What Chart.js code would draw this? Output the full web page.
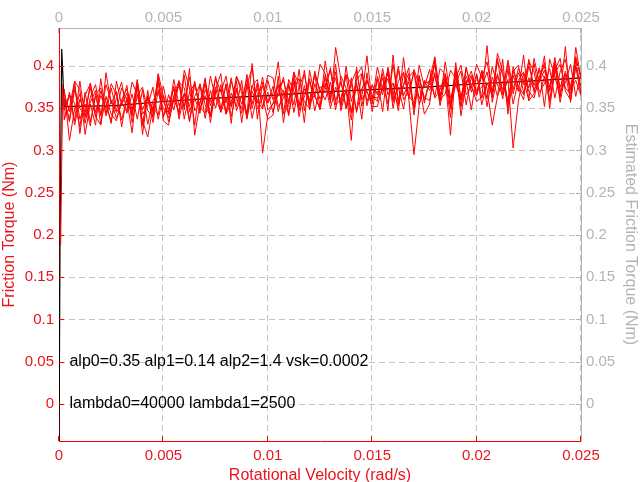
<!DOCTYPE html>
<html>
<head>
<meta charset="utf-8">
<script src="https://cdn.jsdelivr.net/npm/chart.js@4.4.1/dist/chart.umd.min.js"></script>
<style>
html,body{margin:0;padding:0;background:#fff;}
#wrap{width:640px;height:482px;}
</style>
</head>
<body>
<div id="wrap"><canvas id="c" width="640" height="482"></canvas></div>
<script>
// Velocity grid (rad/s), 100 samples per run
const velocity = [
  0.00025,0.0005,0.00075,0.001,0.00125,0.0015,0.00175,0.002,0.00225,0.0025,
  0.00275,0.003,0.00325,0.0035,0.00375,0.004,0.00425,0.0045,0.00475,0.005,
  0.00525,0.0055,0.00575,0.006,0.00625,0.0065,0.00675,0.007,0.00725,0.0075,
  0.00775,0.008,0.00825,0.0085,0.00875,0.009,0.00925,0.0095,0.00975,0.01,
  0.01025,0.0105,0.01075,0.011,0.01125,0.0115,0.01175,0.012,0.01225,0.0125,
  0.01275,0.013,0.01325,0.0135,0.01375,0.014,0.01425,0.0145,0.01475,0.015,
  0.01525,0.0155,0.01575,0.016,0.01625,0.0165,0.01675,0.017,0.01725,0.0175,
  0.01775,0.018,0.01825,0.0185,0.01875,0.019,0.01925,0.0195,0.01975,0.02,
  0.02025,0.0205,0.02075,0.021,0.02125,0.0215,0.02175,0.022,0.02225,0.0225,
  0.02275,0.023,0.02325,0.0235,0.02375,0.024,0.02425,0.0245,0.02475,0.025];
// start-up transient of measured friction
const velStart = [0.00008,0.00018];
const frStart  = [0.188,0.378];
// measured friction torque runs (Nm)
const runA = [
  0.336,0.369,0.330,0.361,0.345,0.375,0.340,0.365,0.351,0.379,
  0.366,0.336,0.361,0.345,0.376,0.330,0.363,0.349,0.380,0.341,
  0.355,0.373,0.342,0.389,0.346,0.364,0.378,0.338,0.371,0.350,
  0.378,0.356,0.386,0.347,0.365,0.339,0.377,0.384,0.351,0.369,
  0.345,0.370,0.383,0.358,0.393,0.353,0.363,0.385,0.347,0.375,
  0.376,0.395,0.358,0.381,0.351,0.386,0.345,0.373,0.383,0.364,
  0.362,0.372,0.394,0.350,0.382,0.392,0.364,0.357,0.401,0.375,
  0.396,0.362,0.372,0.390,0.355,0.386,0.401,0.366,0.376,0.358,
  0.363,0.424,0.357,0.388,0.372,0.402,0.367,0.392,0.378,0.406,
  0.393,0.363,0.388,0.372,0.403,0.357,0.390,0.376,0.407,0.368];
const runB = [
  0.348,0.366,0.335,0.382,0.339,0.357,0.371,0.331,0.364,0.343,
  0.335,0.360,0.373,0.348,0.383,0.343,0.353,0.375,0.337,0.365,
  0.349,0.359,0.381,0.337,0.369,0.379,0.351,0.344,0.388,0.362,
  0.346,0.379,0.340,0.371,0.355,0.385,0.350,0.375,0.361,0.389,
  0.386,0.352,0.362,0.380,0.345,0.376,0.391,0.356,0.366,0.348,
  0.380,0.350,0.375,0.359,0.390,0.344,0.377,0.363,0.412,0.355,
  0.388,0.366,0.396,0.357,0.375,0.349,0.387,0.394,0.361,0.379,
  0.382,0.401,0.364,0.387,0.357,0.392,0.351,0.379,0.389,0.370,
  0.375,0.393,0.362,0.409,0.366,0.384,0.303,0.358,0.391,0.370,
  0.362,0.387,0.400,0.375,0.410,0.370,0.380,0.402,0.364,0.392];
const runC = [
  0.347,0.366,0.356,0.328,0.369,0.334,0.364,0.341,0.378,0.359,
  0.338,0.356,0.346,0.381,0.366,0.335,0.316,0.352,0.342,0.376,
  0.345,0.384,0.353,0.367,0.334,0.380,0.349,0.365,0.340,0.370,
  0.372,0.344,0.382,0.360,0.350,0.390,0.355,0.380,0.297,0.342,
  0.356,0.377,0.344,0.384,0.370,0.352,0.395,0.348,0.379,0.361,
  0.372,0.398,0.354,0.361,0.389,0.379,0.347,0.391,0.369,0.359,
  0.399,0.371,0.385,0.360,0.395,0.365,0.381,0.350,0.389,0.356,
  0.382,0.364,0.397,0.390,0.352,0.378,0.360,0.399,0.369,0.391,
  0.362,0.380,0.370,0.405,0.390,0.359,0.394,0.376,0.366,0.400,
  0.377,0.396,0.386,0.358,0.399,0.364,0.394,0.371,0.408,0.389];
const runD = [
  0.368,0.346,0.376,0.337,0.355,0.329,0.367,0.374,0.341,0.359,
  0.345,0.355,0.377,0.333,0.365,0.375,0.347,0.340,0.384,0.358,
  0.343,0.376,0.337,0.368,0.352,0.382,0.347,0.372,0.358,0.386,
  0.369,0.388,0.351,0.374,0.344,0.379,0.338,0.366,0.376,0.357,
  0.376,0.346,0.371,0.355,0.386,0.340,0.373,0.359,0.390,0.351,
  0.390,0.356,0.422,0.384,0.349,0.380,0.395,0.360,0.370,0.352,
  0.352,0.377,0.390,0.365,0.400,0.360,0.370,0.392,0.354,0.382,
  0.371,0.389,0.358,0.405,0.362,0.380,0.394,0.354,0.387,0.366,
  0.395,0.373,0.330,0.364,0.382,0.356,0.394,0.401,0.368,0.386,
  0.372,0.382,0.404,0.360,0.392,0.402,0.374,0.367,0.411,0.385];
const runE = [
  0.362,0.334,0.372,0.350,0.340,0.380,0.345,0.370,0.357,0.332,
  0.382,0.354,0.368,0.343,0.378,0.348,0.364,0.333,0.372,0.339,
  0.366,0.348,0.381,0.374,0.336,0.362,0.344,0.383,0.353,0.375,
  0.345,0.363,0.353,0.388,0.373,0.342,0.377,0.359,0.349,0.383,
  0.360,0.379,0.369,0.341,0.382,0.347,0.377,0.354,0.391,0.372,
  0.360,0.381,0.348,0.388,0.374,0.312,0.399,0.352,0.383,0.365,
  0.358,0.397,0.366,0.380,0.347,0.393,0.362,0.295,0.353,0.383,
  0.378,0.404,0.360,0.367,0.395,0.385,0.353,0.397,0.375,0.365,
  0.389,0.361,0.399,0.377,0.367,0.407,0.372,0.397,0.384,0.359,
  0.409,0.381,0.395,0.370,0.405,0.375,0.391,0.360,0.399,0.366];
const runF = [
  0.373,0.312,0.349,0.367,0.332,0.363,0.378,0.343,0.353,0.335,
  0.362,0.381,0.344,0.367,0.337,0.372,0.331,0.359,0.369,0.350,
  0.339,0.364,0.377,0.352,0.387,0.347,0.357,0.379,0.341,0.369,
  0.373,0.343,0.368,0.352,0.383,0.337,0.370,0.356,0.387,0.348,
  0.355,0.365,0.387,0.343,0.375,0.385,0.357,0.350,0.394,0.368,
  0.385,0.363,0.393,0.354,0.372,0.346,0.384,0.391,0.358,0.376,
  0.368,0.386,0.355,0.402,0.359,0.377,0.391,0.351,0.384,0.363,
  0.359,0.392,0.353,0.384,0.318,0.398,0.363,0.388,0.374,0.402,
  0.386,0.405,0.368,0.391,0.361,0.396,0.355,0.383,0.393,0.374,
  0.403,0.369,0.379,0.397,0.362,0.393,0.408,0.373,0.383,0.365];
const runG = [
  0.337,0.351,0.382,0.320,0.365,0.379,0.340,0.330,0.392,0.355,
  0.370,0.328,0.363,0.340,0.384,0.319,0.365,0.346,0.389,0.335,
  0.330,0.365,0.383,0.348,0.397,0.318,0.355,0.386,0.333,0.372,
  0.391,0.343,0.357,0.382,0.333,0.377,0.398,0.349,0.363,0.337,
  0.342,0.388,0.333,0.377,0.354,0.396,0.347,0.382,0.363,0.402,
  0.391,0.360,0.402,0.347,0.372,0.336,0.389,0.399,0.353,0.378,
  0.366,0.391,0.347,0.413,0.353,0.378,0.398,0.342,0.388,0.359,
  0.384,0.411,0.359,0.391,0.349,0.398,0.341,0.380,0.394,0.367,
  0.394,0.352,0.387,0.364,0.408,0.343,0.389,0.370,0.413,0.359,
  0.367,0.381,0.412,0.350,0.395,0.409,0.370,0.360,0.422,0.385];
const runH = [
  0.361,0.336,0.382,0.372,0.319,0.355,0.330,0.385,0.343,0.374,
  0.347,0.374,0.360,0.321,0.378,0.329,0.371,0.339,0.391,0.364,
  0.334,0.360,0.346,0.395,0.374,0.330,0.379,0.354,0.340,0.388,
  0.349,0.378,0.332,0.388,0.368,0.343,0.403,0.337,0.381,0.356,
  0.368,0.405,0.343,0.353,0.392,0.378,0.333,0.395,0.364,0.350,
  0.406,0.367,0.386,0.351,0.400,0.358,0.381,0.337,0.392,0.346,
  0.385,0.346,0.399,0.368,0.354,0.410,0.361,0.396,0.378,0.343,
  0.355,0.409,0.366,0.385,0.339,0.404,0.360,0.383,0.348,0.390,
  0.354,0.380,0.366,0.415,0.394,0.350,0.399,0.374,0.360,0.408,
  0.369,0.398,0.352,0.408,0.388,0.363,0.423,0.357,0.401,0.376];
// estimated friction (model)
const velEst = [0,0.00005,0.00013,0.00025,0.0027,0.005,0.0075,0.01,0.0125,0.015,0.0175,0.02,0.0225,0.025];
const frEst  = [-0.05,0.2,0.42,0.352,0.353,0.358,0.362,0.365,0.369,0.372,0.375,0.379,0.382,0.386];
// ticks
const xTicks = [0,0.005,0.01,0.015,0.02,0.025];
const yTicks = [0,0.05,0.1,0.15,0.2,0.25,0.3,0.35,0.4];
const note1 = 'alp0=0.35 alp1=0.14 alp2=1.4 vsk=0.0002';
const note2 = 'lambda0=40000 lambda1=2500';

const RED = '#ff0000';
const RED_TXT = '#e8141c';
const GREY = '#b4b4b4';
const GRID = '#c4c4c4';
const FONT = "'Liberation Sans', Arial, sans-serif";
const FS = 15;
const FS_TITLE = 16;

function pts(xs, ys){ return ys.map((y,i)=>({x:xs[i], y:y})); }
function redSet(data){
  return {data:data, borderColor:RED, borderWidth:1, pointRadius:0, fill:false, tension:0, xAxisID:'x', yAxisID:'y'};
}

const datasets = [
  redSet(pts(velStart.concat(velocity), frStart.concat(runA))),
  redSet(pts(velocity, runB)),
  redSet(pts(velocity, runC)),
  redSet(pts(velocity, runD)),
  redSet(pts(velocity, runE)),
  redSet(pts(velocity, runF)),
  redSet(pts(velocity, runG)),
  redSet(pts(velocity, runH)),
  {data:pts(velEst, frEst), borderColor:'#000000', borderWidth:1.2, pointRadius:0, fill:false, tension:0, xAxisID:'x', yAxisID:'y'}
];

const setTicks = (arr) => (scale) => { scale.ticks = arr.map(v=>({value:v})); };
const fmt = (v) => String(Math.round(v*1000)/1000);

const decor = {
  id:'decor',
  beforeDatasetsDraw(chart){
    const ctx = chart.ctx, a = chart.chartArea;
    const sx = chart.scales.x, sy = chart.scales.y;
    ctx.save();
    ctx.lineWidth = 1;
    ctx.strokeStyle = GRID;
    ctx.setLineDash([6,4]);
    yTicks.forEach(v=>{
      const py = Math.round(sy.getPixelForValue(v))+0.5;
      ctx.beginPath(); ctx.moveTo(a.left, py); ctx.lineTo(a.right, py); ctx.stroke();
    });
    xTicks.forEach(v=>{
      if (v === 0) return;
      const px = Math.round(sx.getPixelForValue(v))-0.5;
      ctx.beginPath(); ctx.moveTo(px, a.bottom); ctx.lineTo(px, a.top); ctx.stroke();
    });
    ctx.restore();
  },
  afterDatasetsDraw(chart){
    const ctx = chart.ctx, a = chart.chartArea;
    const sx = chart.scales.x, sy = chart.scales.y;
    ctx.save();
    ctx.lineWidth = 1;
    yTicks.forEach(v=>{
      const py = Math.round(sy.getPixelForValue(v))+0.5;
      ctx.strokeStyle = RED; ctx.beginPath(); ctx.moveTo(a.left, py); ctx.lineTo(a.left+5, py); ctx.stroke();
      ctx.strokeStyle = GREY; ctx.beginPath(); ctx.moveTo(a.right, py); ctx.lineTo(a.right-5, py); ctx.stroke();
    });
    xTicks.forEach(v=>{
      const px = Math.round(sx.getPixelForValue(v))-0.5;
      ctx.strokeStyle = RED; ctx.beginPath(); ctx.moveTo(px, a.bottom); ctx.lineTo(px, a.bottom-5); ctx.stroke();
      ctx.strokeStyle = GREY; ctx.beginPath(); ctx.moveTo(px, a.top); ctx.lineTo(px, a.top+5); ctx.stroke();
    });
    ctx.fillStyle = '#000';
    ctx.font = '16px ' + FONT;
    ctx.textBaseline = 'middle';
    ctx.textAlign = 'left';
    const tx = sx.getPixelForValue(0.0005);
    ctx.fillText(note1, tx, sy.getPixelForValue(0.05));
    ctx.fillText(note2, tx, sy.getPixelForValue(0));
    ctx.restore();
  }
};

new Chart(document.getElementById('c'), {
  type:'line',
  data:{datasets:datasets},
  plugins:[decor],
  options:{
    responsive:false,
    animation:false,
    events:[],
    layout:{padding:0},
    plugins:{legend:{display:false}, tooltip:{enabled:false}},
    scales:{
      x:{
        type:'linear', position:'bottom', min:0, max:0.025,
        afterBuildTicks:setTicks(xTicks),
        afterFit(s){ s.height = 41; },
        grid:{display:false, drawTicks:false},
        border:{color:RED, width:1},
        ticks:{color:RED_TXT, font:{family:FONT, size:FS}, padding:6, maxRotation:0, callback:fmt},
        title:{display:true, text:'Rotational Velocity (rad/s)', color:RED_TXT, font:{family:FONT, size:FS_TITLE}, padding:{top:0,bottom:-3}}
      },
      x2:{
        type:'linear', position:'top', min:0, max:0.025,
        afterBuildTicks:setTicks(xTicks),
        afterFit(s){ s.height = 28; },
        grid:{display:false, drawTicks:false},
        border:{color:GREY, width:1},
        ticks:{color:GREY, font:{family:FONT, size:FS}, padding:1, maxRotation:0, callback:fmt}
      },
      y:{
        type:'linear', position:'left', min:-0.044, max:0.445,
        afterBuildTicks:setTicks(yTicks),
        afterFit(s){ s.width = 59; },
        grid:{display:false, drawTicks:false},
        border:{color:RED, width:1},
        ticks:{color:RED_TXT, font:{family:FONT, size:FS}, padding:5, callback:fmt},
        title:{display:true, text:'Friction Torque (Nm)', color:RED_TXT, font:{family:FONT, size:FS_TITLE}, padding:{top:0,bottom:0}}
      },
      y2:{
        type:'linear', position:'right', min:-0.044, max:0.445,
        afterBuildTicks:setTicks(yTicks),
        afterFit(s){ s.width = 59; },
        grid:{display:false, drawTicks:false},
        border:{color:GREY, width:1},
        ticks:{color:GREY, font:{family:FONT, size:FS}, padding:5, callback:fmt},
        title:{display:true, text:'Estimated Friction Torque (Nm)', color:GREY, font:{family:FONT, size:FS_TITLE}, padding:{top:0,bottom:0}}
      }
    }
  }
});
</script>
</body>
</html>
